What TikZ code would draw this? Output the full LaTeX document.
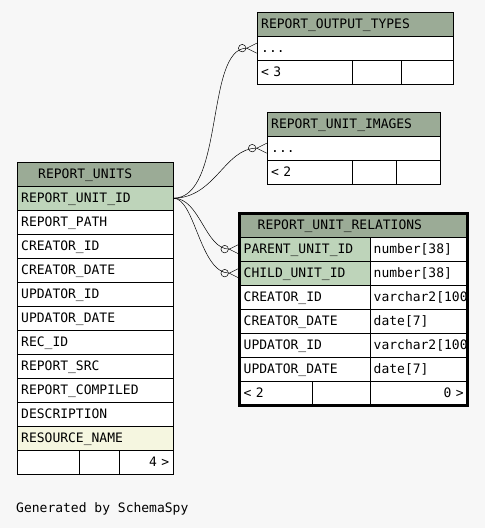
\documentclass[tikz,border=0pt]{standalone}
\usepackage{fontspec}
\setmonofont{DejaVu Sans Mono}
\usetikzlibrary{arrows.meta}
\definecolor{bg}{HTML}{F7F7F7}
\definecolor{headc}{HTML}{9BAB96}
\definecolor{keyc}{HTML}{BED4BA}
\definecolor{idxc}{HTML}{F5F6E0}
\begin{document}
\begin{tikzpicture}[x=1pt,y=-1pt,every node/.style={font=\ttfamily\fontsize{13}{15}\selectfont},
  cell/.style={draw,fill=white,anchor=north west,minimum height=24pt,inner ysep=0pt,inner xsep=4pt,text height=9.5pt,text depth=0pt,align=left},
  hd/.style={cell,fill=headc},
  fk/.style={-{Circle[open,length=8pt,width=8pt]Straight Barb[reversed,length=10pt,width=10pt]},line width=0.5pt}]
\fill[bg] (0,0) rectangle (485,528);
% REPORT_UNITS
\node[hd,text width=148pt] (ru) at (17,162) {\hspace*{17pt}REPORT\_UNITS};
\foreach \n/\c [count=\i] in {REPORT\_UNIT\_ID/keyc,REPORT\_PATH/white,CREATOR\_ID/white,CREATOR\_DATE/white,UPDATOR\_ID/white,UPDATOR\_DATE/white,REC\_ID/white,REPORT\_SRC/white,REPORT\_COMPILED/white,DESCRIPTION/white,RESOURCE\_NAME/idxc}
  \node[cell,fill=\c,text width=148pt] (ru\i) at (17,{186+24*(\i-1)}) {\n};
\node[cell,minimum width=62pt] (ruf1) at (17,450) {};\node[cell,minimum width=40pt] (ruf2) at (79,450) {};
\node[cell,text width=46pt,align=right] (ruf3) at (119,450) {4 >};
% REPORT_OUTPUT_TYPES
\node[hd,text width=188pt] (rot) at (257,12) {REPORT\_OUTPUT\_TYPES};
\node[cell,text width=188pt] (rot1) at (257,36) {...};
\node[cell,text width=87pt] (rotf1) at (257,60) {< 3};\node[cell,minimum width=49pt] (rotf2) at (352,60) {};\node[cell,minimum width=52pt] (rotf3) at (401,60) {};
% REPORT_UNIT_IMAGES
\node[hd,text width=165pt] (rui) at (267,112) {REPORT\_UNIT\_IMAGES};
\node[cell,text width=165pt] (rui1) at (267,136) {...};
\node[cell,text width=77pt] (ruif1) at (267,160) {< 2};\node[cell,minimum width=44pt] (ruif2) at (352,160) {};\node[cell,minimum width=44pt] (ruif3) at (396,160) {};
% REPORT_UNIT_RELATIONS
\begin{scope}
\clip (239.5,213) rectangle (467.5,405);
\node[hd,text width=220pt] (rur) at (239.5,213) {\hspace*{14pt}REPORT\_UNIT\_RELATIONS};
\foreach \n/\t/\c [count=\i] in {PARENT\_UNIT\_ID/number[38]/keyc,CHILD\_UNIT\_ID/number[38]/keyc,CREATOR\_ID/varchar2[100]/white,CREATOR\_DATE/date[7]/white,UPDATOR\_ID/varchar2[100]/white,UPDATOR\_DATE/date[7]/white}{
  \node[cell,fill=\c,text width=122pt] (rur\i) at (239.5,{237+24*(\i-1)}) {\n};
  \node[cell,text width=90pt] (rurt\i) at (369.5,{237+24*(\i-1)}) {\t};}
\node[cell,text width=64pt] (rurf1) at (239.5,381) {< 2};\node[cell,minimum width=58pt] (rurf2) at (311.5,381) {};
\node[cell,text width=90pt,align=right] (rurf3) at (369.5,381) {0 >};
\end{scope}
\draw[line width=3pt] (rur.north west) rectangle (rurf3.south east);
% relations
\draw[fk] (ru1.east) .. controls (225,198) and (205,48) .. (rot1.west);
\draw[fk] (ru1.east) .. controls (215,198) and (225,148) .. (rui1.west);
\draw[fk] (ru1.east) .. controls (200,198) and (205,249) .. (rur1.west);
\draw[fk] (ru1.east) .. controls (195,198) and (200,273) .. (rur2.west);
\node[anchor=west,inner xsep=0pt] (gen) at (16,509) {Generated by SchemaSpy};
\end{tikzpicture}
\end{document}
